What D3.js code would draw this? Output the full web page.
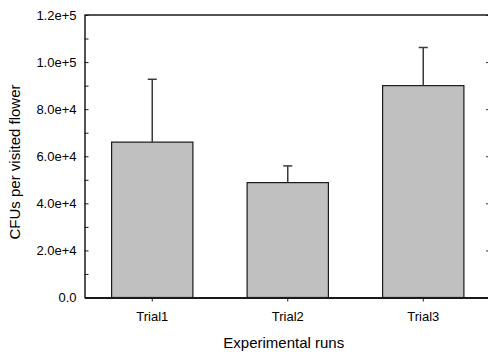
<!DOCTYPE html>
<html>
<head>
<meta charset="utf-8">
<script src="https://cdn.jsdelivr.net/npm/d3@7"></script>
<style>
  body { margin: 0; background: #fff; }
  svg { display: block; font-family: "Liberation Sans", Arial, sans-serif; }
</style>
</head>
<body>
<svg id="chart" width="488" height="354" viewBox="0 0 488 354"></svg>
<script>
// data
const trials = ["Trial1", "Trial2", "Trial3"]
const means = [66000, 48800, 90000]
const errors = [26700, 7100, 16200]
const yTicks = [0, 20000, 40000, 60000, 80000, 100000, 120000]
const yMinor = [10000, 30000, 50000, 70000, 90000, 110000]

const svg = d3.select("#chart")

const plotLeft = 84.5, plotRight = 491, plotTop = 15, plotBottom = 297.5

const x = d3.scaleBand()
    .domain(trials)
    .range([plotLeft, plotRight])
    .paddingInner(0.4)
    .paddingOuter(0.2)

const y = d3.scaleLinear()
    .domain([0, 120000])
    .range([plotBottom, plotTop])

const fmt = v => v === 0 ? "0.0" : d3.format(".1e")(v)

const rows = trials.map((t, i) => ({ t: t, v: means[i], e: errors[i] }))

// bars
svg.append("g")
    .selectAll("rect")
    .data(rows)
    .enter()
    .append("rect")
    .attr("x", d => x(d.t))
    .attr("y", d => y(d.v))
    .attr("width", x.bandwidth())
    .attr("height", d => plotBottom - y(d.v))
    .attr("fill", "#c0c0c0")
    .attr("stroke", "#1a1a1a")
    .attr("stroke-width", 1.2)

// error bars (upper only)
const err = svg.append("g")
    .attr("stroke", "#3a3a3a")
    .attr("stroke-width", 1.5)

err.selectAll(".stem")
    .data(rows)
    .enter()
    .append("line")
    .attr("x1", d => x(d.t) + x.bandwidth() / 2)
    .attr("x2", d => x(d.t) + x.bandwidth() / 2)
    .attr("y1", d => y(d.v))
    .attr("y2", d => y(d.v + d.e))

err.selectAll(".cap")
    .data(rows)
    .enter()
    .append("line")
    .attr("x1", d => x(d.t) + x.bandwidth() / 2 - 4.5)
    .attr("x2", d => x(d.t) + x.bandwidth() / 2 + 4.5)
    .attr("y1", d => y(d.v + d.e))
    .attr("y2", d => y(d.v + d.e))

// left axis, ticks pointing inward
const yAxis = svg.append("g")
    .attr("transform", `translate(${plotLeft},0)`)
    .call(d3.axisLeft(y).tickValues(yTicks).tickFormat(fmt).tickSizeInner(-4).tickSizeOuter(0).tickPadding(8))
yAxis.select(".domain").attr("stroke", "#1a1a1a").attr("stroke-width", 1.5)
yAxis.selectAll(".tick line").attr("stroke", "#1a1a1a")
yAxis.selectAll("text").attr("font-size", 13).attr("fill", "#000")
    .attr("font-family", "Liberation Sans, Arial, sans-serif")

svg.append("g")
    .attr("transform", `translate(${plotLeft},0)`)
    .call(d3.axisLeft(y).tickValues(yMinor).tickFormat("").tickSizeInner(-4).tickSizeOuter(0))
    .call(g => g.select(".domain").remove())
    .selectAll(".tick line").attr("stroke", "#1a1a1a")

// right axis (mostly off the canvas)
const rAxis = svg.append("g")
    .attr("transform", `translate(${plotRight},0)`)
    .call(d3.axisRight(y).tickValues(yTicks).tickFormat("").tickSizeInner(-5).tickSizeOuter(0))
rAxis.select(".domain").attr("stroke", "#1a1a1a").attr("stroke-width", 1.5)
rAxis.selectAll(".tick line").attr("stroke", "#333")

// top line
svg.append("line")
    .attr("x1", plotLeft).attr("x2", plotRight)
    .attr("y1", plotTop).attr("y2", plotTop)
    .attr("stroke", "#1a1a1a").attr("stroke-width", 1.5)

// bottom axis
const xAxis = svg.append("g")
    .attr("transform", `translate(0,${plotBottom})`)
    .call(d3.axisBottom(x).tickSizeInner(4).tickSizeOuter(0).tickPadding(10))
xAxis.select(".domain").attr("stroke", "#1a1a1a").attr("stroke-width", 2)
xAxis.selectAll(".tick line").attr("stroke", "#1a1a1a")
xAxis.selectAll("text").attr("font-size", 13).attr("fill", "#000")
    .attr("font-family", "Liberation Sans, Arial, sans-serif")

// axis titles
svg.append("text")
    .attr("x", (plotLeft + plotRight) / 2 - 4)
    .attr("y", 348)
    .attr("text-anchor", "middle")
    .attr("font-size", 15)
    .attr("fill", "#000")
    .text("Experimental runs")

svg.append("text")
    .attr("transform", `translate(20,162) rotate(-90)`)
    .attr("text-anchor", "middle")
    .attr("font-size", 15)
    .attr("fill", "#000")
    .text("CFUs per visited flower")
</script>
</body>
</html>
